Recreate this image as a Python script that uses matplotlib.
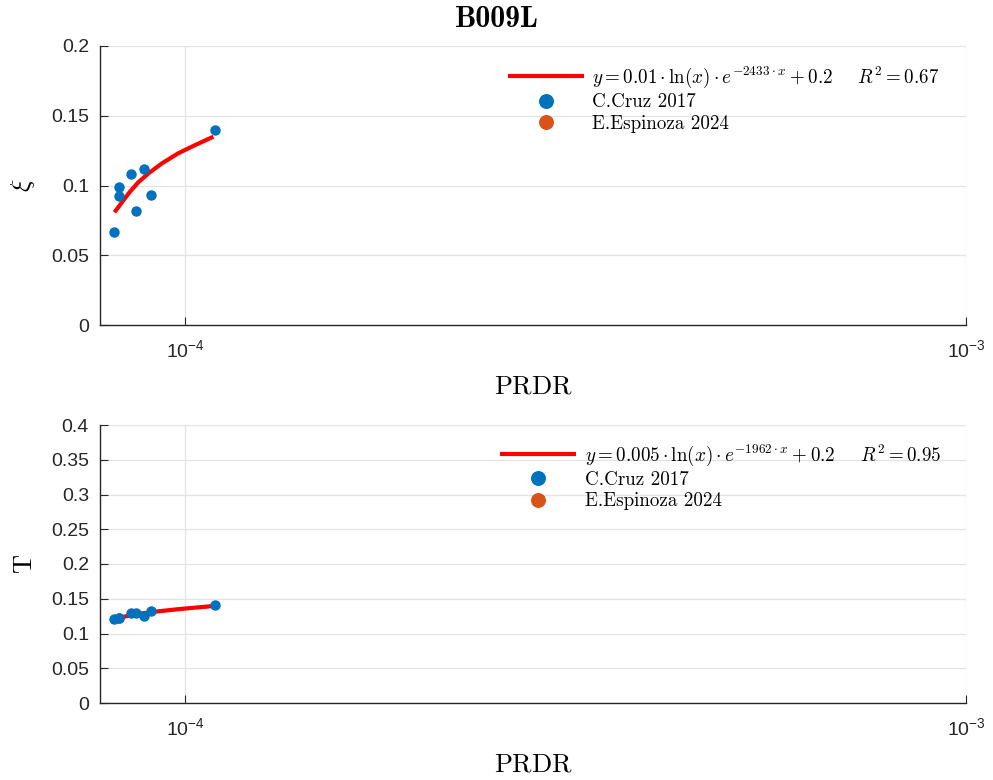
import matplotlib.pyplot as plt

plt.rcParams['font.family'] = ['Liberation Sans', 'DejaVu Sans']
plt.rcParams['mathtext.fontset'] = 'cm'

# PRDR values (C.Cruz 2017)
prdr = [8.10e-5, 8.22e-5, 8.24e-5, 8.53e-5, 8.66e-5, 8.87e-5, 9.03e-5, 1.092e-4]
xi = [0.067, 0.0925, 0.0987, 0.1082, 0.082, 0.1116, 0.0932, 0.140]
period = [0.121, 0.122, 0.123, 0.129, 0.130, 0.1256, 0.132, 0.141]

# fitted curves
fit_x = [8.12e-5, 8.30e-5, 8.50e-5, 8.71e-5, 8.98e-5, 9.34e-5, 9.80e-5, 1.030e-4, 1.087e-4]
fit_xi = [0.0808, 0.0880, 0.0956, 0.1023, 0.1088, 0.1159, 0.1231, 0.1290, 0.1350]
fit_t = [0.1215, 0.1235, 0.1260, 0.1282, 0.1303, 0.1325, 0.1350, 0.1372, 0.1396]

label_xi = r'$y = 0.01 \cdot \ln(x) \cdot e^{-2433 \cdot x} + 0.2 \quad\;\; R^2 = 0.67$'
label_t = r'$y = 0.005 \cdot \ln(x) \cdot e^{-1962 \cdot x} + 0.2 \quad\;\; R^2 = 0.95$'
label_cruz = 'C.Cruz 2017'
label_esp = 'E.Espinoza 2024'

blue = '#0072BD'
orange = '#D95319'

fig = plt.figure(figsize=(9.93, 7.8), dpi=100)
ax1 = fig.add_axes([100/993, 1-325/780, 866/993, 279/780])
ax2 = fig.add_axes([100/993, 1-703/780, 866/993, 278/780])


def style(ax, ylim, yticks, ylabel, fit_y, ys, lab, legx, legy):
    ax.plot(fit_x, fit_y, color='r', lw=3.0, label=lab, zorder=3,
            solid_capstyle='butt')
    ax.plot(prdr, ys, 'o', color=blue, ms=6.5, label=label_cruz, zorder=4)
    ax.plot([], [], 'o', color=orange, ms=6.5, label=label_esp)
    ax.set_xscale('log')
    ax.set_xlim(7.78e-5, 1e-3)
    ax.set_ylim(*ylim)
    ax.set_yticks(yticks)
    ax.set_yticklabels([f'{v:g}' for v in yticks])
    ax.set_xticks([1e-4, 1e-3])
    ax.minorticks_off()
    ax.grid(True, color='#e3e3e3', lw=0.9)
    ax.set_axisbelow(True)
    for s in ['top', 'right']:
        ax.spines[s].set_visible(False)
    for s in ['left', 'bottom']:
        ax.spines[s].set_color('#262626')
        ax.spines[s].set_linewidth(1.0)
    ax.tick_params(direction='in', labelsize=14, colors='#262626', length=6)
    ax.tick_params(axis='x', pad=10)
    ax.tick_params(axis='y', pad=8)
    ax.set_xlabel(r'$\mathrm{PRDR}$', fontsize=19, labelpad=10)
    ax.set_ylabel(ylabel, fontsize=19, labelpad=10)
    ax.legend(loc='upper left', bbox_to_anchor=(legx, legy), frameon=False,
              prop={'family': 'cmr10', 'size': 13.7}, handlelength=4.0,
              markerscale=1.5, labelspacing=0.18, handletextpad=0.45,
              borderaxespad=0)


style(ax1, (0, 0.2), [0, 0.05, 0.1, 0.15, 0.2], r'$\xi$', fit_xi, xi, label_xi,
      0.462, 0.96)
style(ax2, (0, 0.4), [0, 0.05, 0.1, 0.15, 0.2, 0.25, 0.3, 0.35, 0.4], r'$\mathrm{T}$',
      fit_t, period, label_t, 0.453, 0.965)

fig.suptitle('B009L', x=0.5, y=0.992, fontsize=21.5, family='cmb10')

fig.savefig('out.png', dpi=100)
